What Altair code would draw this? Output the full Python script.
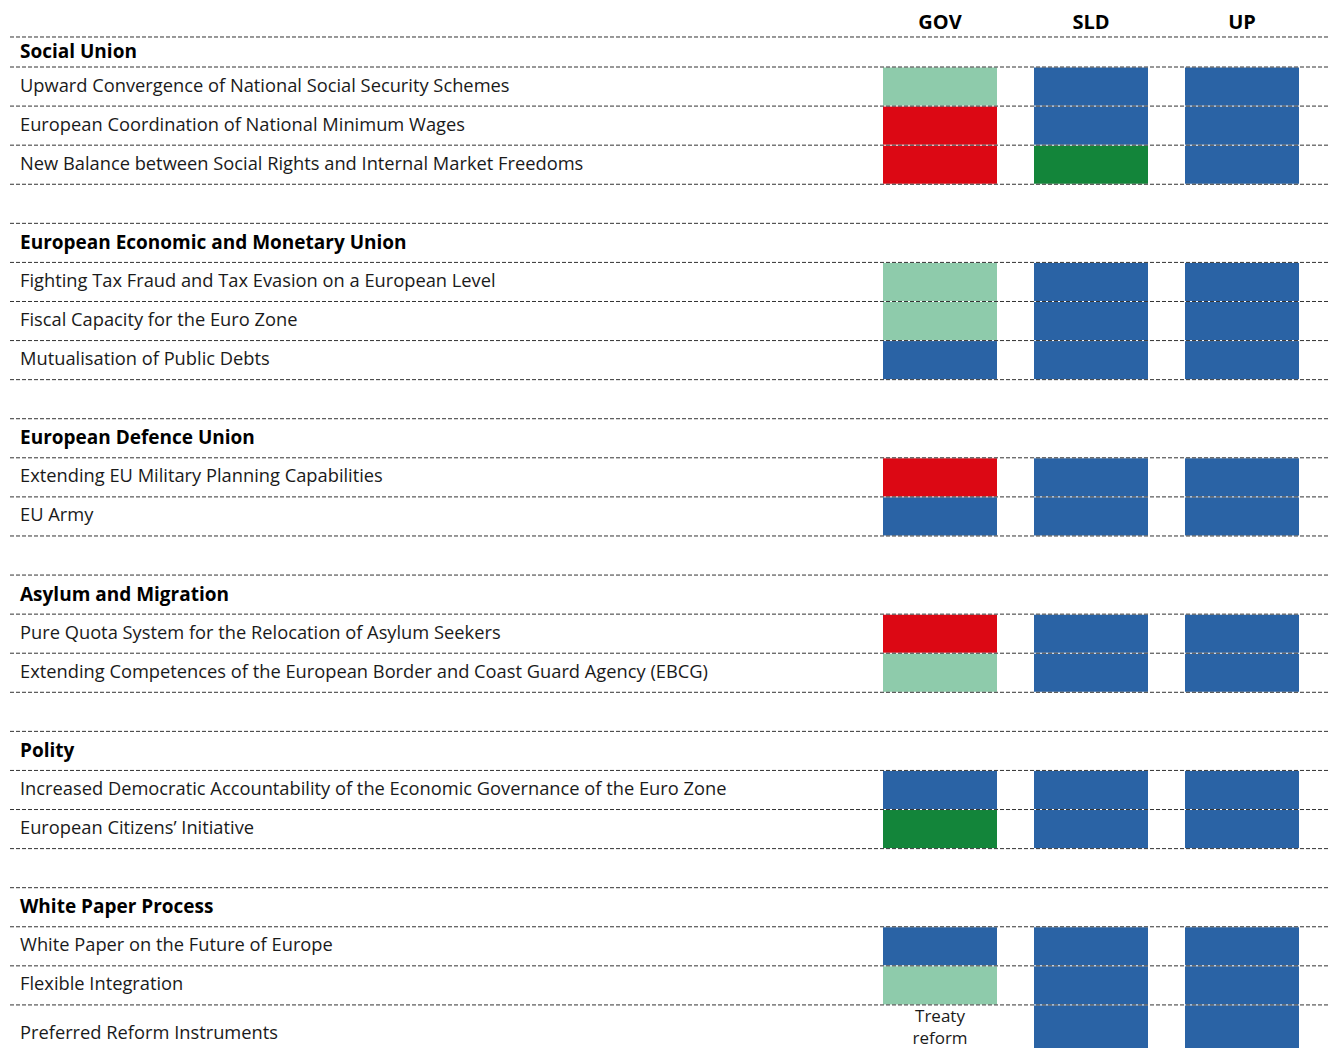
import altair as alt
import pandas as pd

# ---------------- data ----------------
columns = ["GOV", "SLD", "UP"]
sections = [
    "Social Union",
    "European Economic and Monetary Union",
    "European Defence Union",
    "Asylum and Migration",
    "Polity",
    "White Paper Process",
]
items = [
    ["Upward Convergence of National Social Security Schemes",
     "European Coordination of National Minimum Wages",
     "New Balance between Social Rights and Internal Market Freedoms"],
    ["Fighting Tax Fraud and Tax Evasion on a European Level",
     "Fiscal Capacity for the Euro Zone",
     "Mutualisation of Public Debts"],
    ["Extending EU Military Planning Capabilities",
     "EU Army"],
    ["Pure Quota System for the Relocation of Asylum Seekers",
     "Extending Competences of the European Border and Coast Guard Agency (EBCG)"],
    ["Increased Democratic Accountability of the Economic Governance of the Euro Zone",
     "European Citizens’ Initiative"],
    ["White Paper on the Future of Europe",
     "Flexible Integration",
     "Preferred Reform Instruments"],
]
# stance codes per item for GOV, SLD, UP ("" = no coloured cell, text instead)
gov = [["B", "C", "C"], ["B", "B", "A"], ["C", "A"], ["C", "B"], ["A", "D"], ["A", "B", ""]]
sld = [["A", "A", "D"], ["A", "A", "A"], ["A", "A"], ["A", "A"], ["A", "A"], ["A", "A", "A"]]
up = [["A", "A", "A"], ["A", "A", "A"], ["A", "A"], ["A", "A"], ["A", "A"], ["A", "A", "A"]]
cell_text = {("White Paper Process", "Preferred Reform Instruments", "GOV"): "Treaty\nreform"}

stance_codes = ["A", "B", "C", "D"]
stance_colors = ["#2A63A5", "#8ECBAB", "#DC0814", "#13853A"]

# ---------------- layout ----------------
W = 1321
H = 1040
ROW = 39.08
top_line = 0.742
first_header_h = 0.768
last_row_h = 1.5
col_center0, col_step, half_w = 932, 151, 57
text_x = 12
line_x0 = 2

stance_by_col = {"GOV": gov, "SLD": sld, "UP": up}

bars, labels, headers, bounds, ctexts = [], [], [], [top_line], []
y = top_line
for si, sec in enumerate(sections):
    if si > 0:
        y += 1
        bounds.append(y)
    h = first_header_h if si == 0 else 1
    headers.append({"label": sec, "x": text_x, "y": y + h / 2})
    y += h
    bounds.append(y)
    for ii, it in enumerate(items[si]):
        hh = last_row_h if (si == len(sections) - 1 and ii == len(items[si]) - 1) else 1
        labels.append({"label": it, "x": text_x, "y": y + hh / 2})
        for ci, col in enumerate(columns):
            code = stance_by_col[col][si][ii]
            cx = col_center0 + ci * col_step
            if code:
                bars.append({"x": cx - half_w, "x2": cx + half_w, "y": y, "y2": y + hh, "stance": code})
            t = cell_text.get((sec, it, col))
            if t:
                ctexts.append({"label": t, "x": cx, "y": y + hh / 2})
        y += hh
        if hh == 1:
            bounds.append(y)

total = H / ROW

xs = alt.Scale(domain=[0, W], range=[0, W])
ys = alt.Scale(domain=[0, total], reverse=True)

bars_df = pd.DataFrame(bars)
lines_df = pd.DataFrame({"y": bounds, "x": line_x0, "x2": W})
col_df = pd.DataFrame({"label": columns,
                       "x": [col_center0 + i * col_step for i in range(3)],
                       "y": top_line * 0.53})

FONT = "Open Sans"
TXT = "#1a1a1a"

rect = alt.Chart(bars_df).mark_rect(clip=True).encode(
    x=alt.X("x:Q", scale=xs, axis=None), x2="x2:Q",
    y=alt.Y("y:Q", scale=ys, axis=None), y2="y2:Q",
    color=alt.Color("stance:N", scale=alt.Scale(domain=stance_codes, range=stance_colors), legend=None),
)
white = alt.Chart(lines_df).mark_rule(color="white", strokeWidth=1).encode(
    x=alt.X("x:Q", scale=xs), x2="x2:Q", y=alt.Y("y:Q", scale=ys))
dashed = alt.Chart(lines_df).mark_rule(color="#333333", strokeWidth=1, strokeDash=[4, 2]).encode(
    x=alt.X("x:Q", scale=xs), x2="x2:Q", y=alt.Y("y:Q", scale=ys))
item_text = alt.Chart(pd.DataFrame(labels)).mark_text(
    align="left", baseline="middle", font=FONT, fontSize=18.3, fontWeight=400, color=TXT
).encode(x=alt.X("x:Q", scale=xs), y=alt.Y("y:Q", scale=ys), text="label:N")
head_text = alt.Chart(pd.DataFrame(headers)).mark_text(
    align="left", baseline="middle", font=FONT, fontSize=19, fontWeight="bold", color="#000000"
).encode(x=alt.X("x:Q", scale=xs), y=alt.Y("y:Q", scale=ys), text="label:N")
col_text = alt.Chart(col_df).mark_text(
    align="center", baseline="middle", font=FONT, fontSize=20, fontWeight="bold", color="#000000"
).encode(x=alt.X("x:Q", scale=xs), y=alt.Y("y:Q", scale=ys), text="label:N")
cell_txt = alt.Chart(pd.DataFrame(ctexts)).mark_text(
    align="center", baseline="middle", font=FONT, fontSize=17, fontWeight=400, color=TXT,
    lineBreak="\n", lineHeight=22, dy=-17
).encode(x=alt.X("x:Q", scale=xs), y=alt.Y("y:Q", scale=ys), text="label:N")

chart = alt.layer(rect, white, dashed, item_text, head_text, col_text, cell_txt).properties(
    width=W, height=H, autosize=alt.AutoSizeParams(type="none"), padding=0
).configure_view(stroke=None)

chart.save("out.html", embed_options={"renderer": "svg", "actions": False})
